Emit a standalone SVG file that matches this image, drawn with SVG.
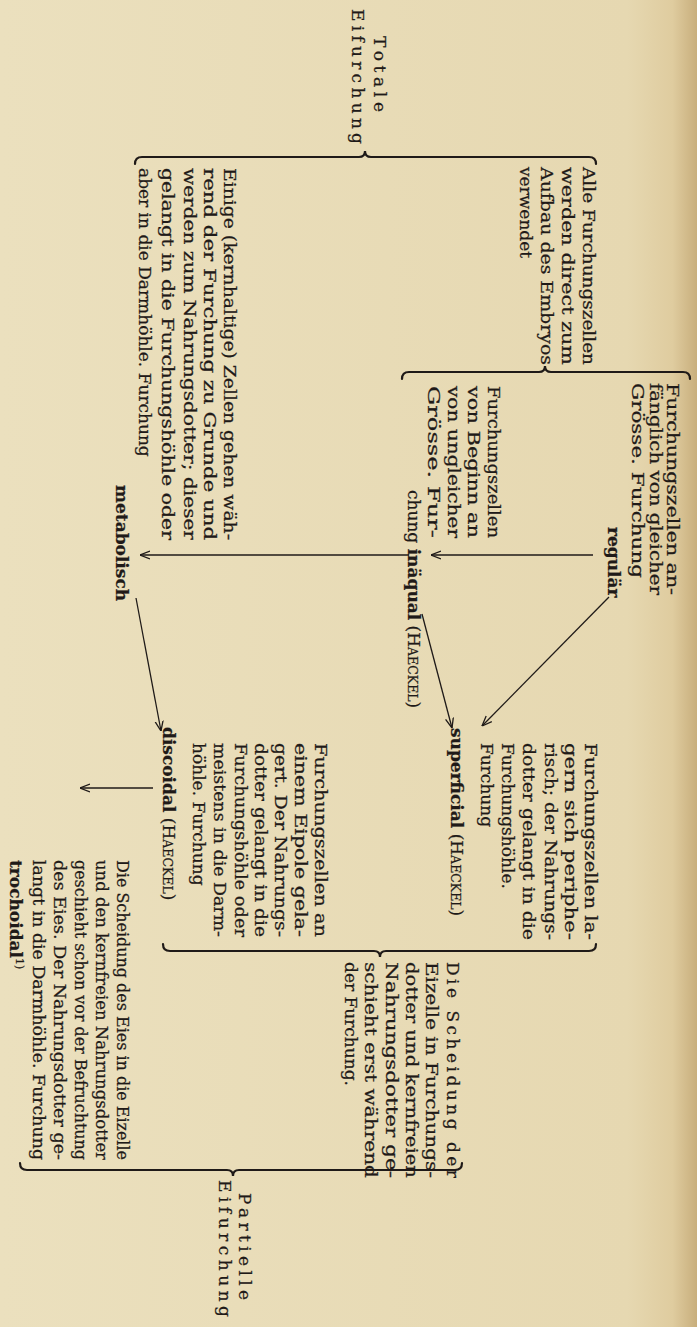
<svg xmlns="http://www.w3.org/2000/svg" width="697" height="1327" viewBox="0 0 697 1327">
<defs>
<linearGradient id="paper" x1="0" y1="0" x2="1" y2="0">
<stop offset="0" stop-color="#ebe0be"/>
<stop offset="0.9" stop-color="#e6d8b1"/>
<stop offset="0.965" stop-color="#dfcc9f"/>
<stop offset="1" stop-color="#c8ae7c"/>
</linearGradient>
<marker id="ah" viewBox="0 0 10 10" refX="10" refY="5" markerWidth="10" markerHeight="10" markerUnits="userSpaceOnUse" orient="auto">
<path d="M0,1 L10,5 L0,9" fill="none" stroke="#1f1a18" stroke-width="1.3"/>
</marker>
<style>
.t{font-family:"DejaVu Serif","Liberation Serif",serif;font-size:17px;fill:#1f1a18;stroke:#1f1a18;stroke-width:0.25}
.b{font-weight:bold}
.sc{font-size:12.5px}
.br{fill:none;stroke:#1f1a18;stroke-width:2.2;stroke-linecap:round}
.ar{fill:none;stroke:#1f1a18;stroke-width:1.3;marker-end:url(#ah)}
</style>
</defs>
<rect width="697" height="1327" fill="url(#paper)"/>

<g id="connectors">
<path class="br" d="M135,164 Q135,157 142,157 L359,157 Q365,157 365,151 Q365,157 371,157 L589,157 Q596,157 596,164"/>
<path class="br" d="M402,379 Q402,372 409,372 L539,372 Q545,372 545,366 Q545,372 551,372 L683,372 Q690,372 690,379"/>
<path class="br" d="M163,944 Q163,951 170,951 L374,951 Q380,951 380,957 Q380,951 386,951 L589,951 Q596,951 596,944"/>
<path class="br" d="M20,1163 Q20,1170 27,1170 L227,1170 Q233,1170 233,1176 Q233,1170 239,1170 L455,1170 Q462,1170 462,1163"/>
<line class="ar" x1="593" y1="555" x2="431" y2="555"/>
<line class="ar" x1="409" y1="555" x2="140" y2="555"/>
<line class="ar" x1="609" y1="597" x2="482" y2="726"/>
<line class="ar" x1="422" y1="614" x2="452" y2="728"/>
<line class="ar" x1="136" y1="598" x2="161" y2="731"/>
<line class="ar" x1="153" y1="788" x2="80" y2="788"/>
</g>

<g id="totale" class="t" transform="translate(697 0) rotate(90)">
<text x="36" y="323" textLength="76" lengthAdjust="spacing">Totale</text>
<text x="9" y="345" textLength="135" lengthAdjust="spacing">Eifurchung</text>
</g>

<g id="alle" class="t" transform="translate(697 0) rotate(90)">
<text x="167" y="114" textLength="198" lengthAdjust="spacingAndGlyphs">Alle Furchungszellen</text>
<text x="167" y="135" textLength="198" lengthAdjust="spacingAndGlyphs">werden direct zum</text>
<text x="167" y="156" textLength="198" lengthAdjust="spacingAndGlyphs">Aufbau des Embryos</text>
<text x="167" y="177">verwendet</text>
</g>

<g id="regulaer" class="t" transform="translate(697 0) rotate(90)">
<text x="383" y="30" textLength="212" lengthAdjust="spacingAndGlyphs">Furchungszellen an-</text>
<text x="383" y="47" textLength="212" lengthAdjust="spacingAndGlyphs">fänglich von gleicher</text>
<text x="383" y="65" textLength="195" lengthAdjust="spacingAndGlyphs">Grösse. Furchung</text>
<text x="527" y="89" class="b">regulär</text>
</g>

<g id="inaequal" class="t" transform="translate(697 0) rotate(90)">
<text x="386" y="209" textLength="152" lengthAdjust="spacingAndGlyphs">Furchungszellen</text>
<text x="386" y="229" textLength="152" lengthAdjust="spacingAndGlyphs">von Beginn an</text>
<text x="386" y="249" textLength="152" lengthAdjust="spacingAndGlyphs">von ungleicher</text>
<text x="386" y="269" textLength="152" lengthAdjust="spacingAndGlyphs">Grösse. Fur-</text>
<text x="490" y="289">chung <tspan class="b">inäqual</tspan> (H<tspan class="sc">AECKEL</tspan>)</text>
</g>

<g id="metabolisch" class="t" transform="translate(697 0) rotate(90)">
<text x="168" y="473" textLength="372" lengthAdjust="spacingAndGlyphs">Einige (kernhaltige) Zellen gehen wäh-</text>
<text x="168" y="493" textLength="372" lengthAdjust="spacingAndGlyphs">rend der Furchung zu Grunde und</text>
<text x="168" y="513" textLength="372" lengthAdjust="spacingAndGlyphs">werden zum Nahrungsdotter; dieser</text>
<text x="168" y="535" textLength="372" lengthAdjust="spacingAndGlyphs">gelangt in die Furchungshöhle oder</text>
<text x="168" y="558">aber in die Darmhöhle. Furchung</text>
<text x="485" y="581" class="b">metabolisch</text>
</g>

<g id="superficial" class="t" transform="translate(697 0) rotate(90)">
<text x="743" y="112" textLength="197" lengthAdjust="spacingAndGlyphs">Furchungszellen la-</text>
<text x="743" y="132" textLength="197" lengthAdjust="spacingAndGlyphs">gern sich periphe-</text>
<text x="743" y="152" textLength="197" lengthAdjust="spacingAndGlyphs">risch; der Nahrungs-</text>
<text x="743" y="174" textLength="197" lengthAdjust="spacingAndGlyphs">dotter gelangt in die</text>
<text x="743" y="195">Furchungshöhle.</text>
<text x="743" y="216">Furchung</text>
<text x="728" y="246"><tspan class="b">superficial</tspan> (H<tspan class="sc">AECKEL</tspan>)</text>
</g>

<g id="discoidal" class="t" transform="translate(697 0) rotate(90)">
<text x="743" y="382" textLength="194" lengthAdjust="spacingAndGlyphs">Furchungszellen an</text>
<text x="743" y="402" textLength="194" lengthAdjust="spacingAndGlyphs">einem Eipole gela-</text>
<text x="743" y="422" textLength="194" lengthAdjust="spacingAndGlyphs">gert. Der Nahrungs-</text>
<text x="743" y="442" textLength="194" lengthAdjust="spacingAndGlyphs">dotter gelangt in die</text>
<text x="743" y="462" textLength="194" lengthAdjust="spacingAndGlyphs">Furchungshöhle oder</text>
<text x="743" y="483" textLength="194" lengthAdjust="spacingAndGlyphs">meistens in die Darm-</text>
<text x="743" y="504">höhle. Furchung</text>
<text x="727" y="534"><tspan class="b">discoidal</tspan> (H<tspan class="sc">AECKEL</tspan>)</text>
</g>

<g id="scheidung" class="t" transform="translate(697 0) rotate(90)">
<text x="962" y="250" textLength="216" lengthAdjust="spacing">Die Scheidung der</text>
<text x="962" y="271" textLength="216" lengthAdjust="spacingAndGlyphs">Eizelle in Furchungs-</text>
<text x="962" y="291" textLength="216" lengthAdjust="spacingAndGlyphs">dotter und kernfreien</text>
<text x="962" y="311" textLength="216" lengthAdjust="spacingAndGlyphs">Nahrungsdotter ge-</text>
<text x="962" y="332" textLength="216" lengthAdjust="spacingAndGlyphs">schieht erst während</text>
<text x="962" y="352">der Furchung.</text>
</g>

<g id="trochoidal" class="t" transform="translate(697 0) rotate(90)">
<text x="860" y="580" textLength="300" lengthAdjust="spacingAndGlyphs">Die Scheidung des Eies in die Eizelle</text>
<text x="860" y="601" textLength="300" lengthAdjust="spacingAndGlyphs">und den kernfreien Nahrungsdotter</text>
<text x="860" y="622" textLength="300" lengthAdjust="spacingAndGlyphs">geschieht schon vor der Befruchtung</text>
<text x="860" y="643" textLength="300" lengthAdjust="spacingAndGlyphs">des Eies. Der Nahrungsdotter ge-</text>
<text x="860" y="664" textLength="300" lengthAdjust="spacingAndGlyphs">langt in die Darmhöhle. Furchung</text>
<text x="860" y="687"><tspan class="b">trochoidal</tspan><tspan font-size="11" dy="-6">1)</tspan></text>
</g>

<g id="partielle" class="t" transform="translate(697 0) rotate(90)">
<text x="1193" y="458" textLength="107" lengthAdjust="spacing">Partielle</text>
<text x="1180" y="478" textLength="137" lengthAdjust="spacing">Eifurchung</text>
</g>
</svg>
